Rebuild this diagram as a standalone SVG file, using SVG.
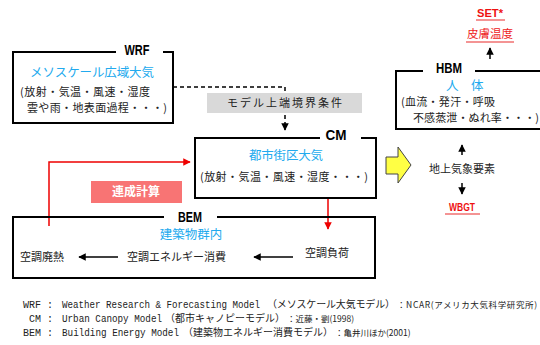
<svg xmlns="http://www.w3.org/2000/svg" width="540" height="345" viewBox="0 0 540 345">
<style>
.jp{font-family:"Noto Sans CJK JP",sans-serif;fill:#222;font-size:11px}
.ttl{font-family:"Noto Sans CJK JP",sans-serif;fill:#22aaee;font-size:12.5px}
.lbl{font-family:"Liberation Sans",sans-serif;font-weight:bold;font-size:14px;fill:#000;text-anchor:middle}
.box{fill:none;stroke:#000;stroke-width:2}
.red{font-family:"Liberation Sans",sans-serif;font-weight:bold;fill:#ee1111;font-size:11px;text-anchor:middle}
.redjp{font-family:"Noto Sans CJK JP",sans-serif;fill:#ee2222;font-size:11.5px;text-anchor:middle}
.ul{stroke:#f07070;stroke-width:1.5}
.mono{font-family:"Liberation Mono","Noto Sans CJK JP",monospace;font-size:10px;fill:#222}
.small{font-family:"Noto Sans CJK JP",sans-serif;font-size:8.5px;fill:#222}
.con{fill:none;stroke:#000;stroke-width:1.5}
</style>
<defs>
<marker id="ab" viewBox="0 0 10 10" refX="9" refY="5" markerWidth="5" markerHeight="5" orient="auto"><path d="M0,0 L10,5 L0,10 z" fill="#000"/></marker>
<marker id="ar" viewBox="0 0 10 10" refX="9" refY="5" markerWidth="5" markerHeight="5" orient="auto"><path d="M0,0 L10,5 L0,10 z" fill="#ee0000"/></marker>
</defs>
<rect width="540" height="345" fill="#fff"/>

<g id="connectors">
<path d="M173,87 H285 V130" fill="none" stroke="#000" stroke-width="1.5" stroke-dasharray="4,3" marker-end="url(#ab)"/>
<path d="M328,198 V229" fill="none" stroke="#ee0000" stroke-width="1.5" marker-end="url(#ar)"/>
<path d="M49,226 V162 H190" fill="none" stroke="#ee0000" stroke-width="1.5" marker-end="url(#ar)"/>
<path d="M118,257 H79" class="con" marker-end="url(#ab)"/>
<path d="M293,257 H254" class="con" marker-end="url(#ab)"/>
<path d="M490,59 V48" class="con" marker-end="url(#ab)"/>
<path d="M462,155 V145" class="con" marker-end="url(#ab)"/>
<path d="M462,183 V194" class="con" marker-end="url(#ab)"/>
<polygon points="386,157 398,157 398,147 411,165 398,183 398,174 386,174" fill="#ffff44" stroke="#444" stroke-width="1"/>
</g>

<g id="wrf">
<path class="box" d="M116,52 H13 V123 H173 V52 H163"/>
<text class="lbl" x="137" y="55" textLength="25" lengthAdjust="spacingAndGlyphs">WRF</text>
<text class="ttl" x="30" y="77" textLength="124" lengthAdjust="spacing">メソスケール広域大気</text>
<text class="jp" x="20" y="96" textLength="130" lengthAdjust="spacing">(放射・気温・風速・湿度</text>
<text class="jp" x="27" y="112" textLength="140" lengthAdjust="spacing">雲や雨・地表面過程・・・)</text>
</g>

<g id="boundary">
<rect x="207" y="93" width="155" height="20" fill="#d9d9d9"/>
<text class="jp" x="227" y="107" font-size="12" textLength="115" lengthAdjust="spacing">モデル上端境界条件</text>
</g>

<g id="cm">
<path class="box" d="M320,138 H195 V198 H376 V138 H361"/>
<text class="lbl" x="336" y="140" textLength="21" lengthAdjust="spacingAndGlyphs">CM</text>
<text class="ttl" x="249" y="160" textLength="74" lengthAdjust="spacing">都市街区大気</text>
<text class="jp" x="200" y="181" textLength="168" lengthAdjust="spacing">(放射・気温・風速・湿度・・・)</text>
</g>

<g id="hbm">
<path class="box" d="M423,71 H396 V129 H545 M475,71 H545"/>
<text class="lbl" x="449" y="73" textLength="26" lengthAdjust="spacingAndGlyphs">HBM</text>
<text class="ttl" x="446" y="90">人　体</text>
<text class="jp" x="401" y="106" textLength="94" lengthAdjust="spacing">(血流・発汗・呼吸</text>
<text class="jp" x="413" y="122" textLength="126" lengthAdjust="spacing">不感蒸泄・ぬれ率・・・)</text>
</g>

<g id="set">
<text class="red" x="490" y="17" textLength="26" lengthAdjust="spacingAndGlyphs">SET*</text>
<line class="ul" x1="476" y1="20" x2="505" y2="20"/>
<text class="redjp" x="490" y="38">皮膚温度</text>
<line class="ul" x1="466" y1="42" x2="514" y2="42"/>
</g>

<g id="ground">
<text class="jp" x="462" y="173" font-size="12" text-anchor="middle">地上気象要素</text>
</g>

<g id="wbgt">
<text class="red" x="462" y="211" textLength="26" lengthAdjust="spacingAndGlyphs">WBGT</text>
<line class="ul" x1="445" y1="214" x2="480" y2="214"/>
</g>

<g id="renseikeisan">
<rect x="91" y="181" width="91" height="22" fill="#f87474"/>
<text x="136" y="196" font-family="Noto Sans CJK JP,sans-serif" font-weight="bold" font-size="12" fill="#fff" text-anchor="middle">連成計算</text>
</g>

<g id="bem">
<path class="box" d="M164,217 H13 V278 H375 V217 H217"/>
<text class="lbl" x="190" y="222" font-size="13" textLength="24" lengthAdjust="spacingAndGlyphs">BEM</text>
<text class="ttl" x="191" y="239" text-anchor="middle" font-size="12">建築物群内</text>
<text class="jp" x="20" y="261" font-size="12">空調廃熱</text>
<text class="jp" x="127" y="261" font-size="12">空調エネルギー消費</text>
<text class="jp" x="305" y="257" font-size="12">空調負荷</text>
</g>

<g id="notes">
<text class="mono" x="23" y="308">WRF :</text>
<text class="mono" x="62" y="308" textLength="198" lengthAdjust="spacingAndGlyphs">Weather Research &amp; Forecasting Model</text>
<text class="mono" x="267" y="308" textLength="128" lengthAdjust="spacing">（メソスケール大気モデル）</text>
<text class="small" x="397" y="308" textLength="140" lengthAdjust="spacing">：NCAR(アメリカ大気科学研究所)</text>
<text class="mono" x="29" y="322">CM :</text>
<text class="mono" x="62" y="322" textLength="100" lengthAdjust="spacingAndGlyphs">Urban Canopy Model</text>
<text class="mono" x="165" y="322" textLength="120" lengthAdjust="spacing">（都市キャノピーモデル）</text>
<text class="small" x="287" y="322">：近藤・劉(1998)</text>
<text class="mono" x="23" y="336">BEM :</text>
<text class="mono" x="62" y="336" textLength="117" lengthAdjust="spacingAndGlyphs">Building Energy Model</text>
<text class="mono" x="183" y="336" textLength="150" lengthAdjust="spacing">（建築物エネルギー消費モデル）</text>
<text class="small" x="335" y="336">：亀井川ほか(2001)</text>
</g>
</svg>
